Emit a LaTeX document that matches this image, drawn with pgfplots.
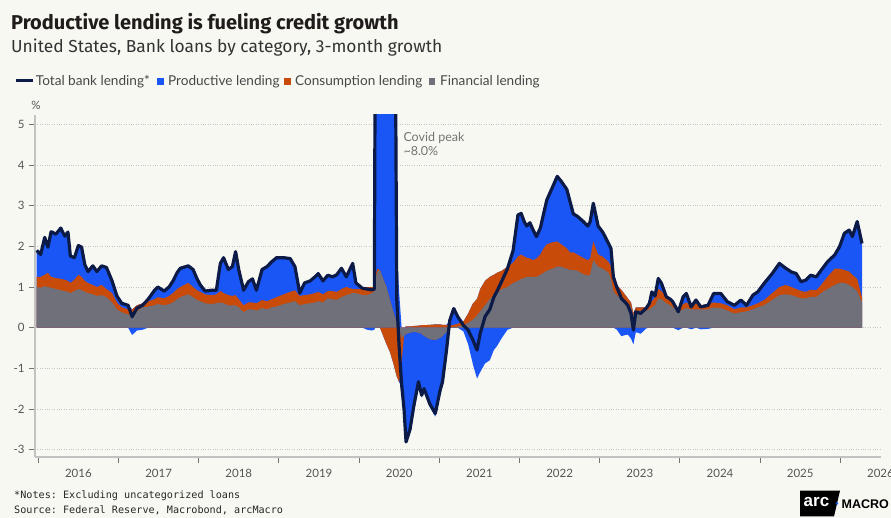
\documentclass[border=0pt]{standalone}
\usepackage{pgfplots}
\usepackage{pgfplotstable}
\pgfplotsset{compat=1.18}
\usepackage{fontspec}
\setmainfont{Lato}
\setmonofont{DejaVu Sans Mono}
\newfontfamily\logofont{Liberation Sans}
\newfontfamily\headfont{Fira Sans}

\definecolor{bgc}{HTML}{F8F8F3}
\definecolor{navy}{HTML}{0B1A47}
\definecolor{pblue}{HTML}{1A56F5}
\definecolor{corange}{HTML}{C84B0A}
\definecolor{fgray}{HTML}{6F7079}
\definecolor{gridc}{HTML}{C6C6C6}
\definecolor{axisc}{HTML}{C2C2C2}
\definecolor{tickc}{HTML}{555555}
\definecolor{titlec}{HTML}{211C1C}

% x = year, f = financial, c = consumption, p = productive (pp, 3m growth)
\pgfplotstableread{
x f c p
2015.98 1.00 0.25 0.65
2016.03 0.98 0.27 0.55
2016.08 1.02 0.28 0.92
2016.12 1.00 0.35 0.63
2016.16 0.98 0.27 1.11
2016.22 0.95 0.27 1.08
2016.28 0.92 0.28 1.25
2016.33 0.90 0.28 1.07
2016.37 0.88 0.27 1.20
2016.40 0.85 0.25 0.66
2016.45 0.90 0.28 0.54
2016.50 0.95 0.35 0.72
2016.54 0.92 0.33 0.73
2016.58 0.88 0.27 0.40
2016.62 0.85 0.25 0.28
2016.68 0.82 0.23 0.47
2016.73 0.78 0.22 0.38
2016.79 0.80 0.25 0.47
2016.85 0.75 0.20 0.53
2016.92 0.62 0.23 0.30
2016.98 0.45 0.17 0.16
2017.04 0.38 0.12 0.10
2017.12 0.32 0.13 0.10
2017.17 0.28 0.17 -0.18
2017.23 0.40 0.15 -0.07
2017.30 0.50 0.10 -0.05
2017.37 0.52 0.13 0.05
2017.45 0.55 0.15 0.22
2017.49 0.58 0.17 0.25
2017.57 0.55 0.17 0.18
2017.63 0.58 0.20 0.22
2017.68 0.62 0.23 0.30
2017.73 0.70 0.25 0.40
2017.77 0.75 0.25 0.46
2017.87 0.82 0.28 0.42
2017.93 0.75 0.25 0.43
2017.98 0.68 0.24 0.28
2018.02 0.65 0.23 0.17
2018.08 0.60 0.22 0.08
2018.16 0.58 0.22 0.12
2018.22 0.60 0.22 0.10
2018.27 0.62 0.28 0.68
2018.31 0.60 0.25 0.87
2018.37 0.55 0.25 0.63
2018.42 0.55 0.23 0.72
2018.46 0.55 0.25 1.07
2018.50 0.50 0.20 0.72
2018.56 0.38 0.17 0.37
2018.62 0.45 0.17 0.51
2018.67 0.45 0.17 0.58
2018.72 0.42 0.18 0.32
2018.79 0.48 0.20 0.75
2018.85 0.45 0.20 0.85
2018.91 0.50 0.20 0.92
2018.97 0.52 0.23 0.97
2019.06 0.58 0.24 0.90
2019.14 0.62 0.26 0.82
2019.20 0.65 0.27 0.58
2019.26 0.55 0.23 0.07
2019.32 0.58 0.22 0.30
2019.39 0.60 0.22 0.33
2019.45 0.62 0.23 0.40
2019.49 0.65 0.23 0.45
2019.55 0.62 0.20 0.33
2019.61 0.72 0.18 0.39
2019.67 0.70 0.20 0.35
2019.72 0.68 0.20 0.42
2019.78 0.75 0.20 0.51
2019.84 0.80 0.20 0.25
2019.92 0.85 0.10 0.63
2019.96 0.85 0.10 0.15
2020.04 0.80 0.15 0.02
2020.10 0.80 0.20 -0.05
2020.16 0.85 0.15 -0.07
2020.19 0.90 0.10 -0.05
2020.20 1.20 0.10 5.20
2020.23 1.38 0.07 6.15
2020.26 1.41 0.00 6.59
2020.30 1.20 -0.20 7.00
2020.34 1.00 -0.40 7.20
2020.385 0.68 -0.60 7.42
2020.43 0.36 -0.90 7.54
2020.455 0.20 -1.10 6.90
2020.47 0.04 -1.20 1.84
2020.50 -0.05 -1.30 0.85
2020.53 -0.25 -0.60 -0.55
2020.56 -0.20 0.00 -1.80
2020.585 -0.15 0.03 -2.69
2020.635 -0.12 0.03 -2.41
2020.68 -0.10 0.04 -1.89
2020.74 -0.12 0.05 -1.26
2020.78 -0.15 0.06 -1.57
2020.81 -0.20 0.06 -1.36
2020.88 -0.28 0.07 -1.66
2020.95 -0.30 0.08 -1.89
2021.01 -0.25 0.08 -1.37
2021.04 -0.20 0.07 -1.20
2021.09 -0.10 0.07 -0.52
2021.13 0.00 0.05 0.13
2021.18 0.02 0.05 0.40
2021.23 0.03 0.07 0.17
2021.30 0.05 0.10 -0.09
2021.36 0.12 0.23 -0.41
2021.42 0.20 0.40 -0.91
2021.47 0.30 0.40 -1.25
2021.51 0.40 0.55 -1.09
2021.57 0.55 0.60 -0.88
2021.63 0.70 0.55 -0.80
2021.68 0.80 0.50 -0.55
2021.72 0.85 0.50 -0.45
2021.78 0.95 0.45 -0.25
2021.85 1.00 0.50 -0.05
2021.92 1.10 0.50 0.30
2021.98 1.15 0.60 1.02
2022.02 1.20 0.60 1.01
2022.06 1.22 0.53 0.85
2022.09 1.25 0.47 0.78
2022.13 1.25 0.45 0.88
2022.17 1.25 0.41 0.74
2022.21 1.25 0.45 0.54
2022.26 1.30 0.50 0.65
2022.30 1.35 0.60 0.85
2022.34 1.40 0.65 1.09
2022.41 1.45 0.65 1.35
2022.47 1.50 0.62 1.60
2022.52 1.50 0.55 1.55
2022.59 1.45 0.50 1.45
2022.63 1.42 0.43 1.25
2022.67 1.42 0.43 0.95
2022.72 1.40 0.40 0.94
2022.79 1.32 0.40 0.90
2022.85 1.28 0.38 0.84
2022.88 1.30 0.40 0.90
2022.92 1.66 0.46 0.94
2022.98 1.50 0.30 0.70
2023.04 1.45 0.29 0.60
2023.11 1.35 0.27 0.45
2023.14 1.20 0.30 0.45
2023.17 0.90 0.20 0.15
2023.21 0.80 0.25 -0.04
2023.27 0.72 0.21 -0.21
2023.32 0.62 0.18 -0.18
2023.35 0.58 0.14 -0.17
2023.39 0.50 0.12 -0.27
2023.42 0.30 0.05 -0.41
2023.45 0.40 0.10 -0.11
2023.51 0.42 0.08 -0.15
2023.58 0.42 0.08 -0.02
2023.62 0.45 0.10 0.05
2023.65 0.50 0.15 0.23
2023.69 0.55 0.20 0.03
2023.73 0.72 0.23 0.26
2023.77 0.70 0.20 0.19
2023.83 0.60 0.15 0.01
2023.88 0.55 0.15 0.00
2023.91 0.50 0.12 0.02
2023.98 0.38 0.07 -0.06
2024.04 0.45 0.13 0.18
2024.08 0.48 0.14 0.22
2024.14 0.45 0.10 -0.04
2024.20 0.45 0.15 0.08
2024.26 0.45 0.10 -0.04
2024.35 0.45 0.13 -0.03
2024.42 0.50 0.12 0.22
2024.51 0.48 0.12 0.24
2024.59 0.42 0.13 0.09
2024.68 0.35 0.10 0.10
2024.76 0.38 0.12 0.18
2024.83 0.40 0.10 0.05
2024.91 0.45 0.10 0.25
2024.97 0.50 0.10 0.28
2025.05 0.55 0.13 0.41
2025.15 0.68 0.17 0.48
2025.24 0.80 0.20 0.58
2025.32 0.82 0.23 0.41
2025.39 0.80 0.20 0.37
2025.45 0.76 0.19 0.38
2025.51 0.72 0.18 0.23
2025.57 0.72 0.16 0.29
2025.63 0.76 0.17 0.36
2025.70 0.75 0.17 0.33
2025.76 0.85 0.20 0.36
2025.84 0.95 0.30 0.37
2025.93 1.05 0.40 0.34
2025.99 1.10 0.35 0.54
2026.05 1.10 0.32 0.90
2026.11 1.05 0.33 1.02
2026.15 1.00 0.30 0.94
2026.21 0.90 0.30 1.41
2026.27 0.62 0.13 1.32
}\data

\begin{document}
\begin{tikzpicture}
\path[use as bounding box] (0,0) rectangle (891pt,518pt);
\fill[bgc] (0,0) rectangle (891pt,518pt);

% titles
\node[anchor=base west, inner sep=0, text=titlec, font=\headfont\fontsize{20}{22}\selectfont\bfseries]
  at (11pt,488.7pt) {Productive lending is fueling credit growth};
\node[anchor=base west, inner sep=0, text=black!80, font=\headfont\fontsize{17.4}{19}\selectfont]
  at (11pt,465.5pt) {United States, Bank loans by category, 3-month growth};

% legend
\begin{scope}[font=\fontsize{13.6}{14}\selectfont, text=black!72]
\draw[navy, line width=3pt] (16pt,437.3pt) -- (33pt,437.3pt);
\node[anchor=base west, inner sep=0] at (35.7pt,432.3pt) {Total bank lending*};
\fill[pblue] (157pt,432.5pt) rectangle (163.8pt,440pt);
\node[anchor=base west, inner sep=0] at (167.9pt,432.3pt) {Productive lending};
\fill[corange] (284pt,432.5pt) rectangle (290.8pt,440pt);
\node[anchor=base west, inner sep=0] at (295pt,432.3pt) {Consumption lending};
\fill[fgray] (428.6pt,432.5pt) rectangle (435.4pt,440pt);
\node[anchor=base west, inner sep=0] at (440pt,432.3pt) {Financial lending};
\end{scope}

\begin{axis}[
  at={(35pt,61pt)}, anchor=south west,
  scale only axis, width=846pt, height=342pt,
  xmin=2015.959, xmax=2026.507, ymin=-3.18, ymax=5.23,
  axis x line*=bottom, axis y line*=left,
  axis line style={draw=axisc, line width=2pt, -},
  xtick={2016,...,2026}, xticklabels={},
  extra x ticks={2016.5,2017.5,2018.5,2019.5,2020.5,2021.5,2022.5,2023.5,2024.5,2025.5,2026.5},
  extra x tick labels={2016,2017,2018,2019,2020,2021,2022,2023,2024,2025,2026},
  extra x tick style={major tick length=0pt, grid=none, xticklabel style={yshift=-9pt}},
  ytick={-3,...,5},
  ymajorgrids, grid style={dotted, gridc, line width=0.9pt},
  tick align=outside, major tick length=6pt,
  tick style={draw=black!55, line width=1pt},
  /pgf/number format/assume math mode=true,
  ticklabel style={font=\fontsize{11.5}{12}\selectfont, text=tickc},
  yticklabel style={xshift=-1pt},
]
% positive stack
\addplot[draw=none, fill=pblue] table[x=x, y expr={max(\thisrow{f},0)+max(\thisrow{c},0)+max(\thisrow{p},0)}] {\data} \closedcycle;
\addplot[draw=none, fill=corange] table[x=x, y expr={max(\thisrow{f},0)+max(\thisrow{c},0)}] {\data} \closedcycle;
\addplot[draw=none, fill=fgray] table[x=x, y expr={max(\thisrow{f},0)}] {\data} \closedcycle;
% negative stack
\addplot[draw=none, fill=pblue] table[x=x, y expr={min(\thisrow{f},0)+min(\thisrow{c},0)+min(\thisrow{p},0)}] {\data} \closedcycle;
\addplot[draw=none, fill=corange] table[x=x, y expr={min(\thisrow{f},0)+min(\thisrow{c},0)}] {\data} \closedcycle;
\addplot[draw=none, fill=fgray] table[x=x, y expr={min(\thisrow{f},0)}] {\data} \closedcycle;
% total
\addplot[navy, line width=3.2pt, line join=round] table[x=x, y expr={\thisrow{f}+\thisrow{c}+\thisrow{p}}] {\data};
\end{axis}

\node[font=\fontsize{11.5}{12}\selectfont, text=tickc] at (36pt,413pt) {\%};

% annotation
\begin{scope}[font=\fontsize{12.5}{13}\selectfont, text=black!55]
\node[anchor=base west, inner sep=0] at (403.3pt,376.3pt) {Covid peak};
\node[anchor=base west, inner sep=0] at (403.3pt,362.3pt) {\textasciitilde 8.0\%};
\end{scope}

% notes
\begin{scope}[font=\ttfamily\fontsize{10.15}{11}\selectfont, text=black!85]
\node[anchor=base west, inner sep=0] at (14pt,19pt) {*Notes: Excluding uncategorized loans};
\node[anchor=base west, inner sep=0] at (14pt,4pt) {Source: Federal Reserve, Macrobond, arcMacro};
\end{scope}

% logo
\fill[black] (800pt,27.3pt) -- (840pt,27.3pt) -- (834pt,1.5pt) -- (800pt,1.5pt) -- cycle;
\node[text=white, font=\logofont\bfseries\fontsize{17}{17}\selectfont, inner sep=0] at (816.5pt,15.5pt) {arc};
\fill[pblue] (837pt,14.5pt) circle (1.4pt);
\node[anchor=base west, inner sep=0, font=\logofont\bfseries\fontsize{12.5}{13}\selectfont] at (841.5pt,9.5pt) {MACRO};
\end{tikzpicture}
\end{document}
